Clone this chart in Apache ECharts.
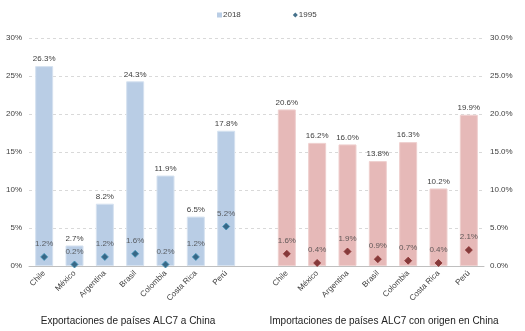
<!DOCTYPE html>
<html><head><meta charset="utf-8">
<script src="https://cdn.jsdelivr.net/npm/echarts@6/dist/echarts.min.js"></script>
<style>html,body{margin:0;padding:0;background:#fff}#c{width:525px;height:331px}</style>
</head><body><div id="c"></div>
<script>
const countries = ['Chile','México','Argentina','Brasil','Colombia','Costa Rica','Perú'];
const exports2018 = [26.3, 2.7, 8.2, 24.3, 11.9, 6.5, 17.8];
const exports1995 = [1.2, 0.2, 1.2, 1.6, 0.2, 1.2, 5.2];
const imports2018 = [20.6, 16.2, 16.0, 13.8, 16.3, 10.2, 19.9];
const imports1995 = [1.6, 0.4, 1.9, 0.9, 0.7, 0.4, 2.1];
const panelTitles = ['Exportaciones de países ALC7 a China', 'Importaciones de países ALC7 con origen en China'];

const cats = countries.concat(['']).concat(countries.map(c => c + ' ')); // unique keys
const left = arr => arr.concat(new Array(countries.length + 1).fill(null));
const right = arr => new Array(countries.length + 1).fill(null).concat(arr);

const font = 'Liberation Sans, Arial, sans-serif';
const txt = '#404040';
const lbl = {show: true, position: 'top', distance: 3, fontSize: 8, color: txt, fontFamily: font,
  formatter: p => p.value == null ? '' : p.value.toFixed(1) + '%'};
const mlbl = Object.assign({}, lbl, {distance: 5});

const chart = echarts.init(document.getElementById('c'));
chart.setOption({
  animation: false,
  textStyle: {fontFamily: font},
  legend: {
    data: [{name: '2018', icon: 'rect', itemStyle: {borderWidth: 0}},
           {name: '1995', icon: 'diamond', itemStyle: {borderWidth: 0}}],
    top: 6, left: 212, itemGap: 52, itemWidth: 5, itemHeight: 5,
    textStyle: {fontSize: 8, color: txt, padding: [0, 0, 0, -4]}
  },
  grid: {left: 29, right: 41, top: 38, bottom: 65},
  xAxis: {
    type: 'category', data: cats,
    axisLine: {lineStyle: {color: '#bfbfbf'}},
    axisTick: {show: false},
    axisLabel: {interval: 0, rotate: 45, fontSize: 8, color: txt, margin: 6,
      formatter: v => v.trim()}
  },
  yAxis: [
    {type: 'value', min: 0, max: 30, interval: 5,
     axisLabel: {fontSize: 8, color: txt, formatter: v => v + '%', margin: 7},
     splitLine: {lineStyle: {color: '#d9d9d9', type: [3, 3]}},
     axisLine: {show: false}, axisTick: {show: false}},
    {type: 'value', min: 0, max: 30, interval: 5, position: 'right',
     axisLabel: {fontSize: 8, color: txt, formatter: v => v.toFixed(1) + '%', margin: 6},
     splitLine: {show: false}, axisLine: {show: false}, axisTick: {show: false}}
  ],
  series: [
    {name: '2018', type: 'bar', data: left(exports2018), barWidth: 18, barGap: '-100%',
     itemStyle: {color: '#b9cde5', borderColor: '#d6e2f0', borderWidth: 1}, label: lbl},
    {name: '2018 imp', type: 'bar', data: right(imports2018), barWidth: 18, barGap: '-100%',
     itemStyle: {color: '#e6b9b8', borderColor: '#efd0cf', borderWidth: 1}, label: lbl},
    {name: '1995', type: 'scatter', data: left(exports1995), symbol: 'diamond', symbolSize: 7,
     itemStyle: {color: '#184e6e', borderColor: '#3d95b8', borderWidth: 1}, label: mlbl, z: 5},
    {name: '1995 imp', type: 'scatter', data: right(imports1995), symbol: 'diamond', symbolSize: 7,
     itemStyle: {color: '#6b1a1a', borderColor: '#8c3030', borderWidth: 1}, label: mlbl, z: 5}
  ],
  graphic: [
    {type: 'text', x: 128, y: 316, style: {text: panelTitles[0], fontSize: 10, fill: '#222', fontFamily: font, textAlign: 'center'}},
    {type: 'text', x: 384, y: 316, style: {text: panelTitles[1], fontSize: 10, fill: '#222', fontFamily: font, textAlign: 'center'}}
  ]
});
</script></body></html>
